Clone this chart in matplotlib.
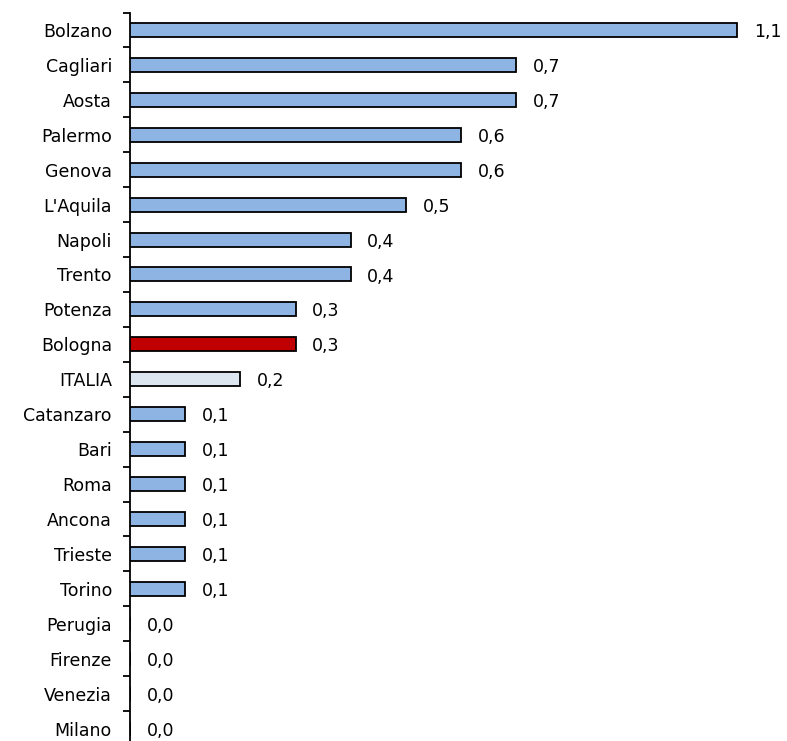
import matplotlib
matplotlib.use("Agg")
import matplotlib.pyplot as plt
import numpy as np

cities = ["Bolzano", "Cagliari", "Aosta", "Palermo", "Genova", "L'Aquila", "Napoli",
          "Trento", "Potenza", "Bologna", "ITALIA", "Catanzaro", "Bari", "Roma",
          "Ancona", "Trieste", "Torino", "Perugia", "Firenze", "Venezia", "Milano"]
values = [1.1, 0.7, 0.7, 0.6, 0.6, 0.5, 0.4, 0.4, 0.3, 0.3, 0.2, 0.1, 0.1, 0.1,
          0.1, 0.1, 0.1, 0.0, 0.0, 0.0, 0.0]

blue = "#8DB4E2"
colors = []
for c in cities:
    if c == "Bologna":
        colors.append("#C00000")
    elif c == "ITALIA":
        colors.append("#DCE6F1")
    else:
        colors.append(blue)

plt.rcParams['font.family'] = ['DejaVu Sans']
FS = 12.5

W, H = 787, 741
fig = plt.figure(figsize=(W / 100, H / 100), dpi=100)
left_px, top_px, bottom_px = 130, 12.5, 746
ax = fig.add_axes([left_px / W, (H - bottom_px) / H, (W - left_px) / W,
                   (bottom_px - top_px) / H])

y = np.arange(len(cities))
ax.barh(y, values, height=0.4, color=colors, edgecolor="black", linewidth=1.3,
        zorder=3)

ax.set_ylim(len(cities) - 0.5, -0.5)
ax.set_xlim(0, (W - left_px) / 552)

for yi, v in zip(y, values):
    ax.text(v + 0.03, yi + 0.06, f"{v:.1f}".replace(".", ","), va="center",
            ha="left", fontsize=FS, color="black")

# Category boundary ticks (unlabelled) and centred labels
ax.set_yticks(np.arange(-0.5, len(cities), 1.0))
ax.set_yticklabels([])
ax.tick_params(axis="y", which="major", direction="out", length=5, width=1.3)
ax.set_yticks(y, minor=True)
ax.set_yticklabels(cities, minor=True, fontsize=FS)
ax.tick_params(axis="y", which="minor", length=0, pad=13)

ax.set_xticks([])
for s in ["top", "right", "bottom"]:
    ax.spines[s].set_visible(False)
ax.spines["left"].set_linewidth(1.3)

fig.savefig("out.png", dpi=100)
